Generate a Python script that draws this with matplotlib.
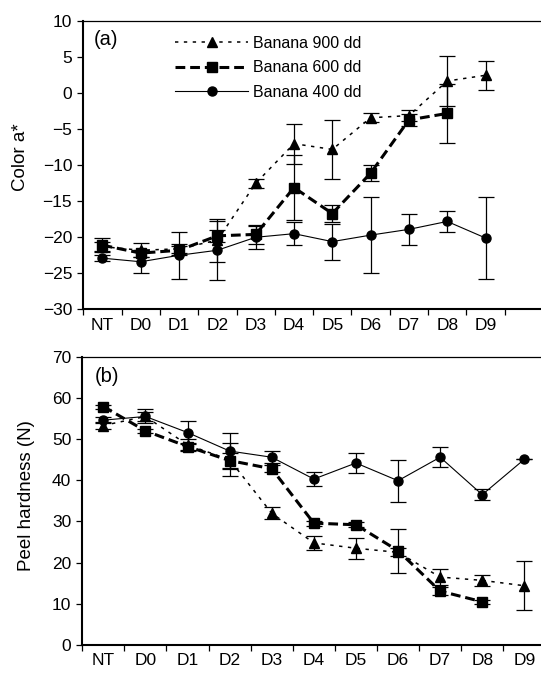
import numpy as np
import matplotlib.pyplot as plt
from matplotlib.lines import Line2D

plt.rcParams['font.family'] = ['Liberation Sans', 'DejaVu Sans']

days = ['NT', 'D0', 'D1', 'D2', 'D3', 'D4', 'D5', 'D6', 'D7', 'D8', 'D9']
nan = np.nan

# (a) colour a*
a900 = [-21.3, -21.8, -21.6, -20.4, -12.5, -7.0, -7.8, -3.4, -3.1, 1.7, 2.5]
a900_err = [0.6, 1.0, 0.6, 3.0, 0.6, 2.8, 4.1, 0.6, 0.8, 3.5, 2.0]
a600 = [-21.1, -22.2, -21.8, -19.8, -19.6, -13.1, -16.7, -11.1, -3.7, -2.8, nan]
a600_err = [1.0, 0.5, 0.6, 0.8, 1.3, 4.5, 1.2, 1.1, 0.8, 4.1, nan]
a400 = [-22.9, -23.4, -22.5, -21.8, -20.0, -19.5, -20.6, -19.7, -18.9, -17.8, -20.1]
a400_err = [0.4, 1.6, 3.3, 4.1, 1.6, 1.6, 2.5, 5.3, 2.2, 1.5, 5.7]

# (b) peel hardness
b900 = [53.3, 55.5, 48.6, 45.0, 32.0, 24.8, 23.5, 22.5, 16.5, 15.7, 14.4]
b900_err = [0.8, 1.0, 1.5, 4.0, 1.5, 1.7, 2.5, 1.0, 1.9, 1.4, 5.9]
b600 = [57.9, 52.0, 48.2, 44.8, 42.8, 29.6, 29.2, 22.9, 13.1, 10.5, nan]
b600_err = [0.5, 0.5, 0.8, 1.9, 0.8, 0.6, 0.6, 5.3, 1.0, 0.5, nan]
b400 = [54.6, 55.5, 51.6, 47.1, 45.6, 40.3, 44.2, 39.9, 45.6, 36.5, 45.1]
b400_err = [0.8, 1.7, 2.9, 4.4, 1.4, 1.6, 2.4, 5.1, 2.4, 1.3, 0.0]

styles = [
    ('Banana 900 dd', '^', dict(linestyle=(0, (2.2, 3.6)), linewidth=1.1)),
    ('Banana 600 dd', 's', dict(linestyle=(0, (3.2, 1.6)), linewidth=2.2)),
    ('Banana 400 dd', 'o', dict(linestyle='-', linewidth=0.8)),
]

x = np.arange(len(days)) + 0.5

fig = plt.figure(figsize=(5.41, 6.75), dpi=100)
ax1 = fig.add_axes([0.154, 0.5418, 0.9205, 0.4267])
ax2 = fig.add_axes([0.1521, 0.0444, 0.856, 0.4271])


def draw(ax, series, xmax, nticks, ylim, yticks, ylabel, tag, tagpos):
    for (label, marker, ls), (y, err) in zip(styles, series):
        ax.errorbar(x, y, yerr=err, color='black', marker=marker, markersize=6.5,
                    capsize=6, elinewidth=0.9, capthick=0.9, **ls)
    ax.set_xlim(0, xmax)
    ax.set_ylim(*ylim)
    ax.set_yticks(yticks)
    ax.set_xticks(np.arange(nticks))
    ax.set_xticklabels([])
    ax.set_xticks(x, minor=True)
    ax.set_xticklabels(days, minor=True)
    ax.tick_params(which='major', direction='out', length=4.5, width=0.9, labelsize=12.5)
    ax.tick_params(axis='x', which='minor', length=0, pad=6, labelsize=12.5)
    ax.spines['right'].set_visible(False)
    ax.spines['left'].set_linewidth(1.5)
    ax.spines['bottom'].set_linewidth(1.5)
    ax.spines['top'].set_linewidth(0.9)
    ax.set_ylabel(ylabel, fontsize=13.5)
    ax.text(tagpos[0], tagpos[1], tag, transform=ax.transAxes, fontsize=14.5, va='center')


draw(ax1, [(a900, a900_err), (a600, a600_err), (a400, a400_err)],
     13, 12, (-30, 10), np.arange(-30, 11, 5), 'Color a*', '(a)', (0.02, 0.935))
draw(ax2, [(b900, b900_err), (b600, b600_err), (b400, b400_err)],
     11, 11, (0, 70), np.arange(0, 71, 10), 'Peel hardness (N)', '(b)', (0.027, 0.931))

ax1.yaxis.set_major_formatter(plt.FuncFormatter(lambda v, p: f'{v:.0f}'.replace('-', '\u2212')))
ax1.yaxis.set_label_coords(-0.109, 0.529)
ax2.yaxis.set_label_coords(-0.103, 0.517)

# legend keys without the error bars
handles = [Line2D([], [], color='black', marker=m, markersize=6.5, **ls) for _, m, ls in styles]
labels = [s[0] for s in styles]
ax1.legend(handles, labels, loc='upper left', bbox_to_anchor=(0.184, 0.95),
           frameon=False, fontsize=11.5, handlelength=4.6, handletextpad=0.29,
           labelspacing=0.6, borderpad=0, borderaxespad=0)

fig.savefig('out.png', dpi=100)
